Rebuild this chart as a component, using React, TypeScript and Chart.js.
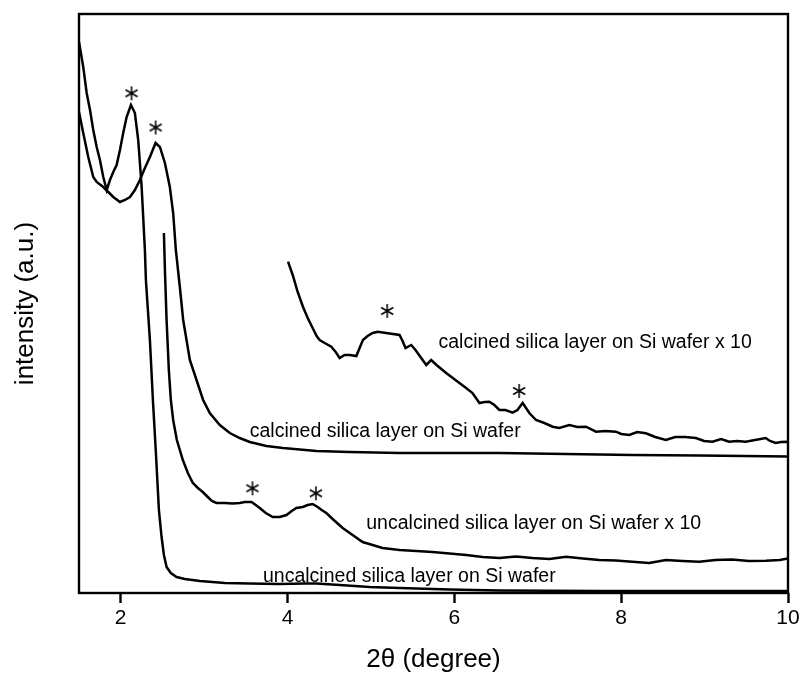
import React, { useEffect, useRef } from "react";
import { Chart, registerables } from "chart.js";

Chart.register(...registerables);

// ---- data (2θ in degrees, intensity in arbitrary units) ----
const uncalcinedX = [1.5, 1.551, 1.592, 1.632, 1.671, 1.712, 1.751, 1.791, 1.832, 1.871, 1.911, 1.951, 1.991, 2.03, 2.071, 2.123, 2.17, 2.21, 2.251, 2.29, 2.302, 2.35, 2.386, 2.422, 2.458, 2.49, 2.518, 2.55, 2.601, 2.67, 2.769, 2.949, 3.248, 3.547, 3.906, 4.2, 4.349, 4.625, 4.984, 5.343, 5.942, 6.54, 7.737, 8.935, 10.0];
const uncalcinedY = [551, 526, 500, 483, 463, 446, 433, 416, 403, 413, 421, 428, 443, 460, 476, 488, 480, 453, 406, 343, 313, 253, 193, 140, 83, 56, 38, 26, 20, 16, 14, 12, 10, 9.5, 9, 9.5, 9.5, 8, 6, 5, 3.5, 2.5, 2, 2, 2];

const calcinedX = [1.5, 1.551, 1.611, 1.671, 1.712, 1.791, 1.851, 1.911, 1.991, 2.051, 2.111, 2.17, 2.23, 2.29, 2.35, 2.418, 2.47, 2.53, 2.589, 2.629, 2.661, 2.709, 2.749, 2.829, 2.909, 2.988, 3.068, 3.188, 3.308, 3.427, 3.547, 3.747, 3.946, 4.346, 4.744, 5.343, 5.942, 6.54, 8.132, 8.935, 10.0];
const calcinedY = [481, 460, 436, 416, 411, 406, 401, 396, 391, 393, 396, 403, 413, 425, 436, 450, 446, 430, 406, 380, 343, 306, 273, 233, 213, 193, 180, 168, 160, 155, 151, 147, 145, 142, 141, 140, 140, 140, 138, 137.5, 136.5];

const uncalcined10X = [2.518, 2.53, 2.55, 2.577, 2.601, 2.629, 2.673, 2.745, 2.805, 2.865, 2.925, 2.984, 3.044, 3.092, 3.149, 3.248, 3.344, 3.427, 3.487, 3.568, 3.619, 3.667, 3.739, 3.823, 3.906, 3.987, 4.05, 4.106, 4.182, 4.242, 4.301, 4.361, 4.409, 4.465, 4.541, 4.661, 4.78, 4.9, 5.02, 5.139, 5.343, 5.543, 5.738, 5.942, 6.141, 6.34, 6.54, 6.74, 6.935, 7.14, 7.339, 7.54, 7.737, 7.937, 8.132, 8.336, 8.536, 8.735, 8.935, 9.13, 9.329, 9.53, 9.733, 9.9, 10.0];
const uncalcined10Y = [360, 323, 273, 223, 193, 173, 153, 133, 120, 110, 105, 101, 96, 92, 90, 90, 89.5, 90, 91, 91, 88, 85, 80, 76, 76, 78, 82, 85, 86, 88, 89, 86, 83, 80, 74, 65, 58, 51, 48, 45, 43, 42, 41, 39.5, 38, 36, 35, 36.5, 35, 34, 36.3, 34.5, 33, 32.5, 31.3, 30, 33, 32, 31.3, 33, 33.5, 32, 32.3, 33, 34.5];

const calcined10X = [4.006, 4.062, 4.122, 4.185, 4.242, 4.301, 4.349, 4.385, 4.445, 4.525, 4.577, 4.625, 4.684, 4.744, 4.825, 4.864, 4.904, 4.96, 5.02, 5.083, 5.223, 5.343, 5.379, 5.415, 5.483, 5.534, 5.594, 5.663, 5.722, 5.786, 5.902, 6.013, 6.141, 6.217, 6.301, 6.361, 6.42, 6.48, 6.54, 6.612, 6.699, 6.756, 6.819, 6.899, 6.979, 7.079, 7.178, 7.258, 7.378, 7.474, 7.578, 7.698, 7.809, 7.937, 8.001, 8.097, 8.192, 8.296, 8.408, 8.536, 8.647, 8.767, 8.895, 8.994, 9.094, 9.198, 9.294, 9.389, 9.493, 9.605, 9.733, 9.784, 9.853, 9.916, 9.988, 10.0];
const calcined10Y = [331.3, 318, 301, 286.3, 275, 265, 257, 253, 250, 246.3, 241, 235, 238, 238, 237, 245, 253, 257, 260, 261.3, 259.5, 258, 252, 245, 248, 243, 236, 228, 233, 228, 220, 213, 205, 200, 190, 191, 191.3, 188, 183, 183, 180.3, 183, 190, 180, 173, 170, 166.3, 165, 168, 166, 166.3, 161.3, 162, 161.3, 159, 158, 161, 159.7, 156, 153, 156, 156, 155, 152, 151.3, 154, 151.3, 152, 151.3, 153, 155, 152, 150, 151, 151.3, 151];

// peak markers (*)
const peakX = [2.13, 2.419, 5.195, 6.777, 3.58, 4.34];
const peakY = [499.7, 465.5, 282, 202, 104.7, 99.7];

// curve labels
const labelTexts = [
  "calcined silica layer on Si wafer x 10",
  "calcined silica layer on Si wafer",
  "uncalcined silica layer on Si wafer x 10",
  "uncalcined silica layer on Si wafer",
];
const labelX = [5.81, 3.547, 4.944, 3.706];
const labelY = [245, 156, 64, 11];

const xTicks = [2, 4, 6, 8, 10];
const xMin = 1.5;
const xMax = 10;
const yMin = 0;
const yMax = 579;

const FONT = "'Liberation Sans', Arial, Helvetica, sans-serif";

const zip = (xs: number[], ys: number[]) => xs.map((x, i) => ({ x, y: ys[i] }));

function makeAsterisk(): HTMLCanvasElement {
  const c = document.createElement("canvas");
  c.width = 16;
  c.height = 16;
  const ctx = c.getContext("2d")!;
  ctx.strokeStyle = "#000";
  ctx.lineWidth = 1.5;
  const cx = 8, cy = 8, r = 7;
  ctx.beginPath();
  ctx.moveTo(cx, cy - r);
  ctx.lineTo(cx, cy + r);
  const dx = r * Math.cos(Math.PI / 6), dy = r * Math.sin(Math.PI / 6);
  ctx.moveTo(cx - dx, cy - dy);
  ctx.lineTo(cx + dx, cy + dy);
  ctx.moveTo(cx - dx, cy + dy);
  ctx.lineTo(cx + dx, cy - dy);
  ctx.stroke();
  return c;
}

const framePlugin = {
  id: "frameAndLabels",
  afterDraw(chart: any) {
    const { ctx, chartArea, scales } = chart;
    ctx.save();
    ctx.strokeStyle = "#000";
    ctx.lineWidth = 2.4;
    ctx.strokeRect(chartArea.left, chartArea.top, chartArea.right - chartArea.left, chartArea.bottom - chartArea.top);
    ctx.fillStyle = "#000";
    ctx.font = `19.5px ${FONT}`;
    ctx.textAlign = "left";
    ctx.textBaseline = "alphabetic";
    labelTexts.forEach((t, i) => {
      ctx.fillText(t, scales.x.getPixelForValue(labelX[i]), scales.y.getPixelForValue(labelY[i]));
    });
    ctx.restore();
  },
};

export default function App() {
  const ref = useRef<HTMLCanvasElement | null>(null);
  useEffect(() => {
    if (!ref.current) return;
    const line = (data: { x: number; y: number }[], label: string) => ({
      label,
      data,
      showLine: true,
      borderColor: "#000",
      backgroundColor: "#000",
      borderWidth: 2.5,
      pointRadius: 0,
      tension: 0,
      fill: false,
    });
    const star = makeAsterisk();
    const chart = new Chart(ref.current, {
      type: "scatter",
      data: {
        datasets: [
          line(zip(uncalcinedX, uncalcinedY), "uncalcined silica layer on Si wafer"),
          line(zip(calcinedX, calcinedY), "calcined silica layer on Si wafer"),
          line(zip(uncalcined10X, uncalcined10Y), "uncalcined silica layer on Si wafer x 10"),
          line(zip(calcined10X, calcined10Y), "calcined silica layer on Si wafer x 10"),
          {
            label: "peaks",
            data: zip(peakX, peakY),
            showLine: false,
            pointStyle: star as any,
            pointRadius: 8,
            borderWidth: 0,
          } as any,
        ],
      },
      options: {
        responsive: false,
        animation: false,
        layout: { padding: { top: 14, right: 15, left: 0, bottom: 0 } },
        plugins: {
          legend: { display: false },
          tooltip: { enabled: false },
        },
        scales: {
          x: {
            type: "linear",
            min: xMin,
            max: xMax,
            afterBuildTicks: (axis: any) => {
              axis.ticks = xTicks.map((v) => ({ value: v }));
            },
            afterFit: (s: any) => {
              s.height = 82;
            },
            grid: {
              display: true,
              drawOnChartArea: false,
              drawTicks: true,
              tickLength: 10,
              tickWidth: 2.4,
              tickColor: "#000",
              color: "#000",
            },
            border: { display: false },
            ticks: {
              color: "#000",
              font: { family: FONT, size: 21 },
              padding: 3,
              maxRotation: 0,
              autoSkip: false,
            },
            title: {
              display: true,
              text: "2θ (degree)",
              color: "#000",
              font: { family: FONT, size: 26 },
              padding: { top: 0, bottom: 0 },
            },
          },
          y: {
            type: "linear",
            min: yMin,
            max: yMax,
            afterFit: (s: any) => {
              s.width = 79;
            },
            grid: { display: false },
            border: { display: false },
            ticks: { display: false },
            title: {
              display: true,
              text: "intensity (a.u.)",
              color: "#000",
              font: { family: FONT, size: 26 },
              padding: { top: 10, bottom: 0 },
            },
          },
        },
      },
      plugins: [framePlugin],
    } as any);
    return () => chart.destroy();
  }, []);
  return (
    <div style={{ position: "fixed", left: 0, top: 0, width: 803, height: 675, background: "#fff" }}>
      <canvas ref={ref} width={803} height={675} style={{ display: "block" }} />
    </div>
  );
}
